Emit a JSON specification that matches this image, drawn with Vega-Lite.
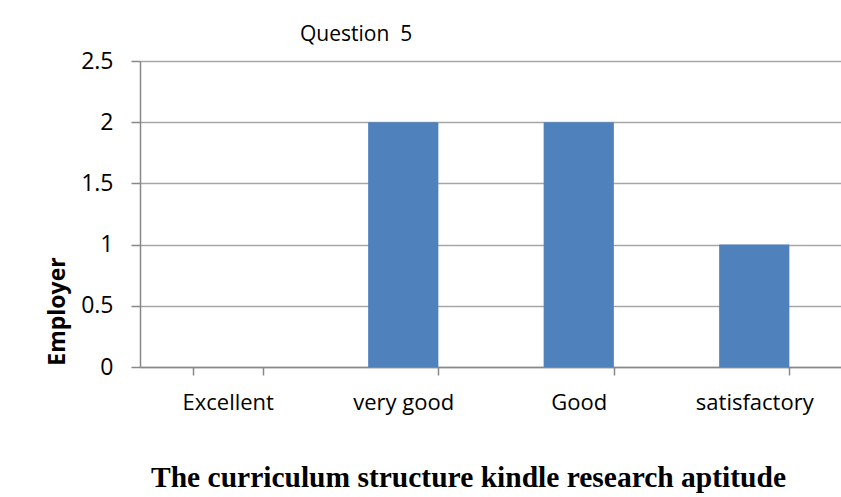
{
  "$schema": "https://vega.github.io/schema/vega-lite/v6.json",
  "width": 702,
  "height": 306,
  "autosize": {"type": "none"},
  "padding": {"left": 140, "top": 61, "right": 0, "bottom": 130},
  "background": "white",
  "config": {"view": {"stroke": null}},
  "title": {
    "text": "Question \u00a05",
    "anchor": "start",
    "frame": "group",
    "dx": 160,
    "offset": -12,
    "baseline": "alphabetic",
    "font": "Open Sans",
    "fontSize": 21,
    "fontWeight": "normal",
    "color": "#000000"
  },
  "data": {
    "values": [
      {"rating": "Excellent", "count": 0},
      {"rating": "very good", "count": 2},
      {"rating": "Good", "count": 2},
      {"rating": "satisfactory", "count": 1}
    ]
  },
  "mark": {"type": "bar", "color": "#4f81bd"},
  "encoding": {
    "x": {
      "field": "rating",
      "type": "nominal",
      "sort": null,
      "scale": {"paddingInner": 0.6, "paddingOuter": 0.3},
      "axis": {
        "title": "The curriculum structure kindle research aptitude",
        "titleFont": "Liberation Serif",
        "titleFontSize": 29.5,
        "titleFontWeight": "bold",
        "titleColor": "#000000",
        "titleX": 328,
        "titleY": 119,
        "titleAlign": "center",
        "titleBaseline": "alphabetic",
        "labelAngle": 0,
        "labelFont": "Open Sans",
        "labelFontSize": 22,
        "labelColor": "#000000",
        "labelBaseline": "alphabetic",
        "labelPadding": 34,
        "domainColor": "#888888",
        "domainWidth": 1.5,
        "tickColor": "#888888",
        "tickSize": 8,
        "tickWidth": 1.5,
        "tickBand": "extent"
      }
    },
    "y": {
      "field": "count",
      "type": "quantitative",
      "scale": {"domain": [0, 2.5]},
      "axis": {
        "values": [0, 0.5, 1, 1.5, 2, 2.5],
        "labelExpr": "datum.value",
        "title": "Employer",
        "titleFont": "Open Sans",
        "titleFontSize": 23,
        "titleFontWeight": "bold",
        "titleColor": "#000000",
        "titleX": -83,
        "titleY": 250,
        "titleAngle": 270,
        "titleAlign": "center",
        "titleBaseline": "middle",
        "labelFont": "Open Sans",
        "labelFontSize": 23,
        "labelColor": "#000000",
        "labelPadding": 18,
        "domainColor": "#888888",
        "domainWidth": 1.5,
        "tickColor": "#888888",
        "tickSize": 9,
        "tickWidth": 1.5,
        "grid": true,
        "gridColor": "#a6a6a6",
        "gridWidth": 1.5
      }
    }
  }
}
